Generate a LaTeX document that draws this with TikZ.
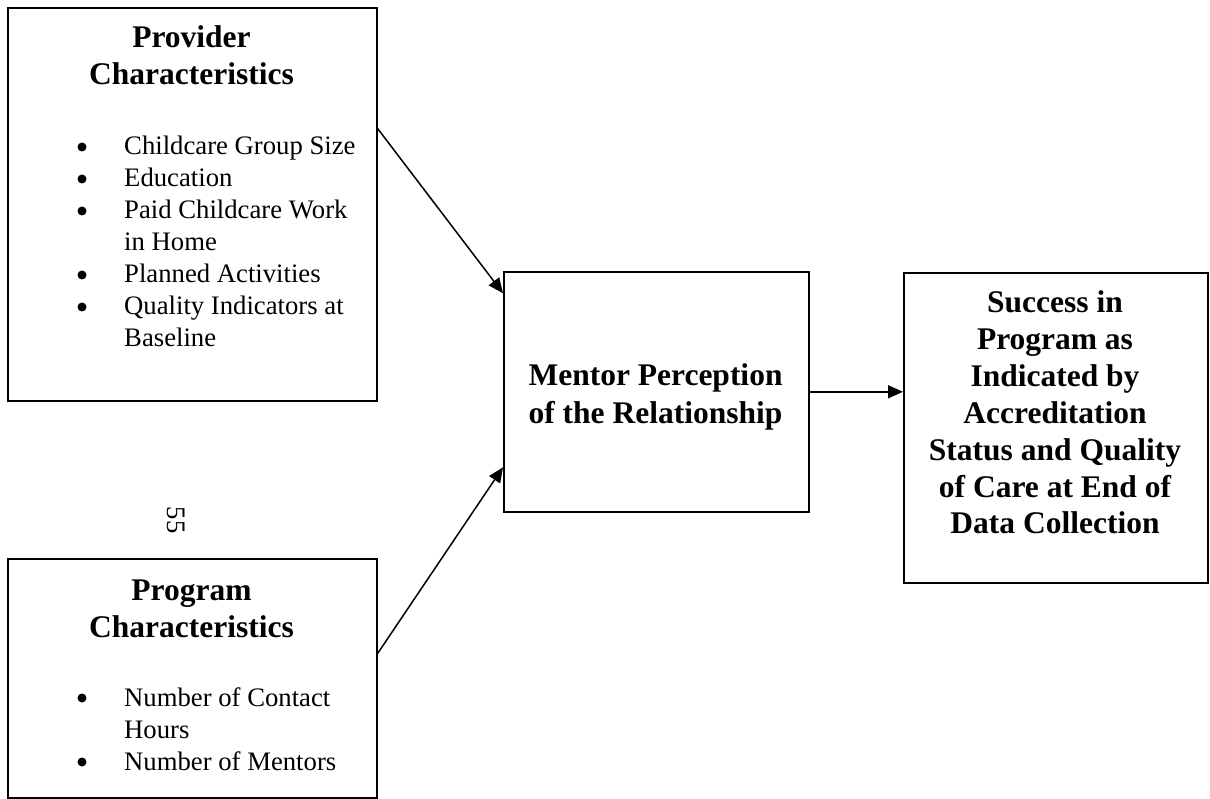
\documentclass[tikz,border=0pt]{standalone}
\usepackage{fontspec}
\setmainfont{Liberation Serif}
\usetikzlibrary{calc,arrows.meta}

\begin{document}
\begin{tikzpicture}[x=1pt,y=-1pt,
  box/.style={draw, line width=1.6pt, rectangle, inner sep=0pt, anchor=north west},
  head/.style={inner sep=0pt, anchor=base, font=\fontsize{31.5}{36.5}\selectfont\bfseries},
  item/.style={inner sep=0pt, anchor=base west, font=\fontsize{26.7}{32}\selectfont},
  dot/.style={circle, fill, inner sep=0pt, minimum size=9pt},
  link/.style={line width=1.5pt, -{Triangle[length=15pt,width=13pt]}}]
\useasboundingbox (0,0) rectangle (1210,799);

% the four boxes
\node[box, minimum width=369pt, minimum height=393pt] (prov) at (7,7) {};
\node[box, minimum width=369pt, minimum height=239pt] (prog) at (7,558) {};
\node[box, minimum width=305pt, minimum height=240pt] (ment) at (503,271) {};
\node[box, minimum width=304pt, minimum height=310pt] (succ) at (903,272) {};

% provider characteristics
\node[head] (provh1) at (191.5,48) {Provider};
\node[head] (provh2) at (191.5,85) {Characteristics};
\foreach \y/\n in {155/1,187/2,219/3,283/4,315/5}
  \node[dot] (provb\n) at (82,\y-8) {};
\node[item] (provi1) at (124,155) {Childcare Group Size};
\node[item] (provi2) at (124,187) {Education};
\node[item] (provi3) at (124,219) {Paid Childcare Work};
\node[item] (provi3b) at (124,251) {in Home};
\node[item] (provi4) at (124,283) {Planned Activities};
\node[item] (provi5) at (124,315) {Quality Indicators at};
\node[item] (provi5b) at (124,347) {Baseline};

% program characteristics
\node[head] (progh1) at (191.5,600) {Program};
\node[head] (progh2) at (191.5,637) {Characteristics};
\foreach \y/\n in {706/1,770/2}
  \node[dot] (progb\n) at (82,\y-8) {};
\node[item] (progi1) at (124,706) {Number of Contact};
\node[item] (progi1b) at (124,738) {Hours};
\node[item] (progi2) at (124,770) {Number of Mentors};

% page number
\node[inner sep=0pt, rotate=-90, font=\fontsize{26.7}{32}\selectfont] (pageno) at (176,520) {55};

% mentor perception
\node[head] (menth1) at (655.5,385) {Mentor Perception};
\node[head] (menth2) at (655.5,423) {of the Relationship};

% success outcome
\foreach \y/\t [count=\n] in {313/Success in, 350/Program as, 387/Indicated by,
    423/Accreditation, 460/Status and Quality, 497/of Care at End of, 533/Data Collection}
  \node[head] (succh\n) at (1055,\y) {\t};

% connectors
\draw[link] ($(prov.north east)!0.308!(prov.south east)$) -- ($(ment.north west)!0.092!(ment.south west)$);
\draw[link] ($(prog.north east)!0.397!(prog.south east)$) -- ($(ment.north west)!0.8125!(ment.south west)$);
\draw[link] (ment.east) -- (ment.east -| succ.west);
\end{tikzpicture}
\end{document}
